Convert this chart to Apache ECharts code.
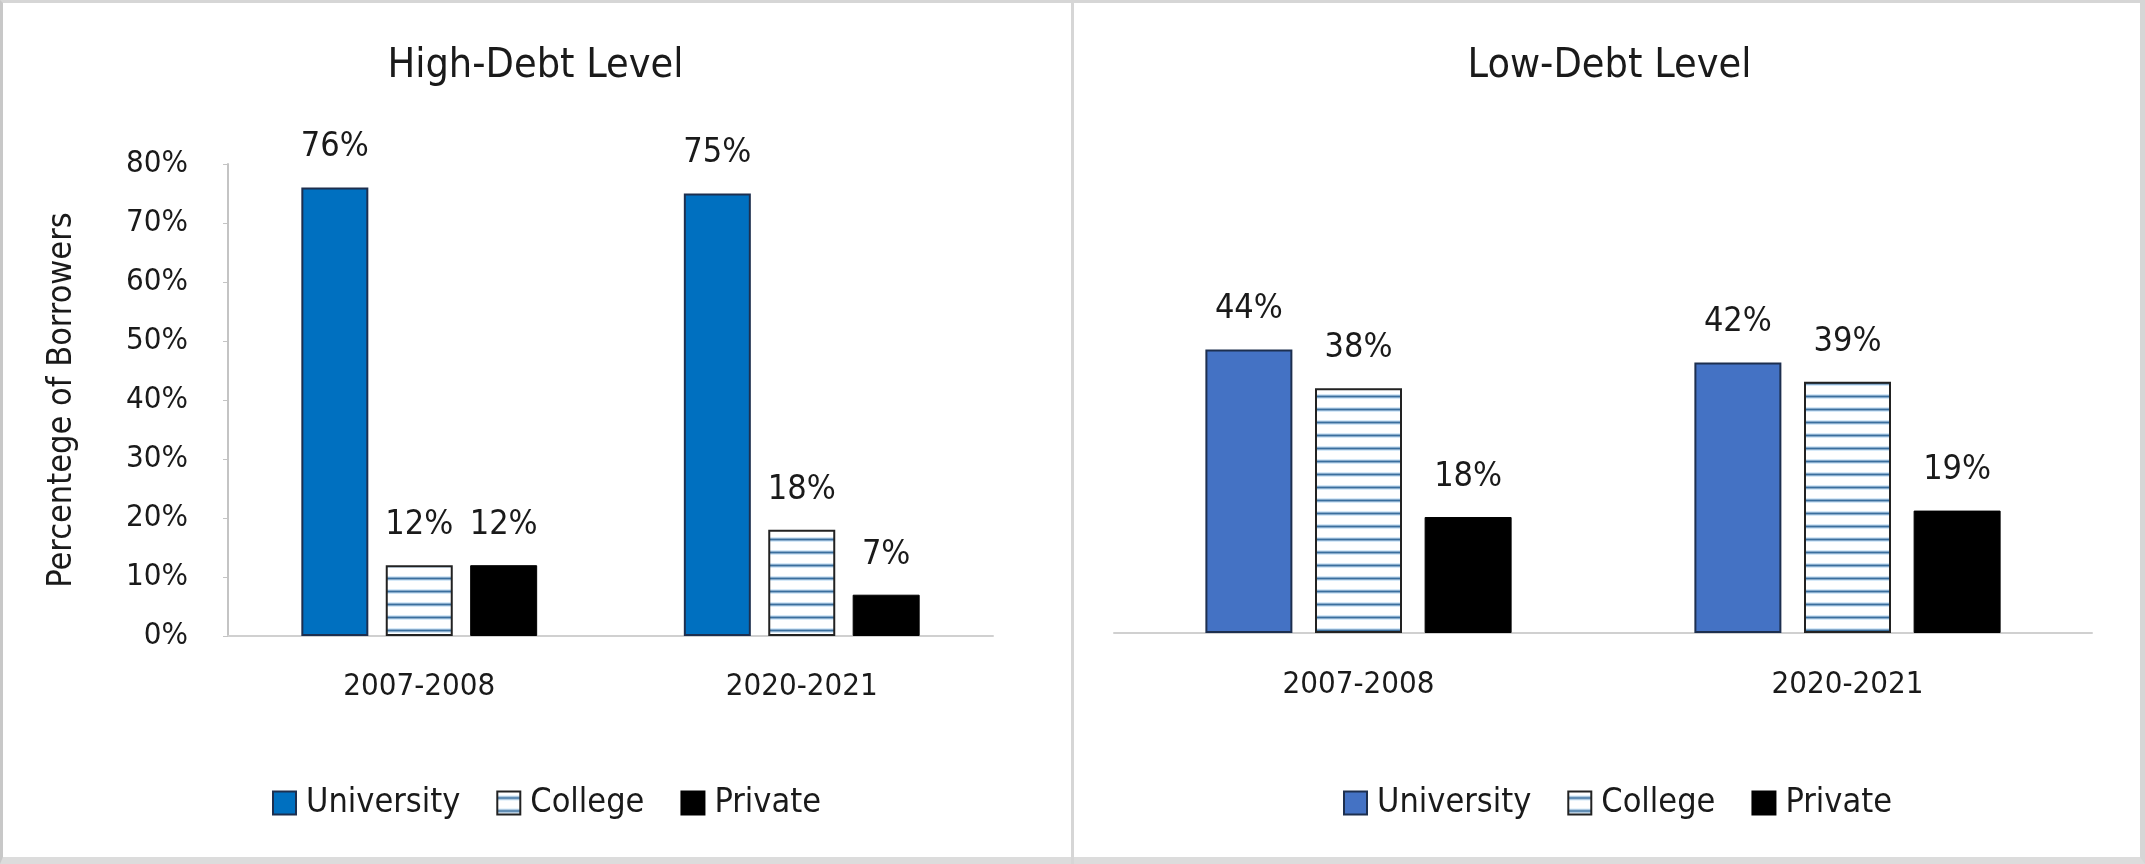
<!DOCTYPE html>
<html>
<head>
<meta charset="utf-8">
<script src="https://cdn.jsdelivr.net/npm/echarts@6/dist/echarts.min.js"></script>
<style>
  html, body { margin: 0; padding: 0; background: #ffffff; }
  #frame { position: absolute; left: 0; top: 0; width: 2145px; height: 864px; box-sizing: border-box;
           border-top: 3px solid #d6d6d6; border-left: 3px solid #c8c8c8; border-right: 5px solid #d6d6d6; border-bottom: 7px solid #dcdcdc; }
  #divider { position: absolute; left: 1071px; top: 0; width: 3px; height: 864px; background: #d6d6d6; }
  #left { position: absolute; left: 0; top: 0; width: 1071px; height: 864px; }
  #right { position: absolute; left: 1074px; top: 0; width: 1071px; height: 864px; }
</style>
</head>
<body>
<div id="frame"></div>
<div id="divider"></div>
<div id="left"></div>
<div id="right"></div>
<script>
// ---- data ----
const categories = ['2007-2008', '2020-2021'];
const seriesNames = ['University', 'College', 'Private'];
const highUniversity = [76, 75];
const highCollege = [12, 18];
const highPrivate = [12, 7];
const lowUniversity = [44, 42];
const lowCollege = [38, 39];
const lowPrivate = [18, 19];
const highTitle = 'High-Debt Level';
const lowTitle = 'Low-Debt Level';
const yAxisName = 'Percentege of Borrowers';
const highYMax = 80, highYInterval = 10;
const lowYMax = 70;

const FONT = '"Liberation Sans Narrow", "Arial Narrow", "DejaVu Sans Condensed", "Roboto Condensed", "Liberation Sans", sans-serif';
const TXT = '#1a1a1a';

function stripePattern() {
  const c = document.createElement('canvas');
  c.width = 8; c.height = 13;
  const g = c.getContext('2d');
  g.fillStyle = '#ffffff'; g.fillRect(0, 0, 8, 13);
  g.fillStyle = '#d6e9f8'; g.fillRect(0, 4, 8, 5);
  g.fillStyle = '#3a6f9e'; g.fillRect(0, 5.5, 8, 2);
  return { image: c, repeat: 'repeat' };
}

function labelOpt() {
  return { show: true, position: 'top', distance: 23, formatter: '{c}%', fontSize: 34, lineHeight: 34,
           color: TXT, fontFamily: FONT };
}

function makeSeries(uni, col, pri, uniColor, barW) {
  return [
    { name: seriesNames[0], type: 'bar', data: uni, barWidth: barW, barGap: '26%',
      itemStyle: { color: uniColor, borderColor: '#1d2f4f', borderWidth: 2 }, label: labelOpt() },
    { name: seriesNames[1], type: 'bar', data: col, barWidth: barW, barGap: '26%',
      itemStyle: { color: stripePattern(), borderColor: '#222222', borderWidth: 2 }, label: labelOpt() },
    { name: seriesNames[2], type: 'bar', data: pri, barWidth: barW, barGap: '26%',
      itemStyle: { color: '#000000', borderColor: '#000000', borderWidth: 1 }, label: labelOpt() }
  ];
}

function baseOption(title, legendLeft) {
  return {
    animation: false,
    backgroundColor: 'transparent',
    title: { text: title, left: 'center', top: 46, padding: 0,
             textStyle: { fontSize: 41, lineHeight: 41, fontWeight: 'normal', color: TXT, fontFamily: FONT } },
    legend: { data: seriesNames, left: legendLeft, top: 786, padding: 0, icon: 'rect',
              itemWidth: 23, itemHeight: 23, itemGap: 36,
              textStyle: { fontSize: 34, color: TXT, fontFamily: FONT, padding: [0, 0, 0, 5] } },
    tooltip: { show: false }
  };
}

// ---- left chart ----
const leftChart = echarts.init(document.getElementById('left'));
const leftOpt = baseOption(highTitle, 272);
leftOpt.grid = { left: 228, top: 164, width: 765, height: 472 };
leftOpt.xAxis = { type: 'category', data: categories,
  axisLine: { lineStyle: { color: '#d0d0d0', width: 2 } }, axisTick: { show: false },
  axisLabel: { fontSize: 31, lineHeight: 31, color: TXT, fontFamily: FONT, margin: 35 } };
leftOpt.yAxis = { type: 'value', min: 0, max: highYMax, interval: highYInterval,
  name: yAxisName, nameLocation: 'middle', nameGap: 149,
  nameTextStyle: { fontSize: 34, lineHeight: 34, color: TXT, fontFamily: FONT },
  axisLine: { show: true, lineStyle: { color: '#c4c4c4', width: 2 } },
  axisTick: { show: true, length: 5, lineStyle: { color: '#c4c4c4', width: 1 } },
  splitLine: { show: false },
  axisLabel: { formatter: '{value}%', fontSize: 31, color: TXT, fontFamily: FONT, margin: 40 } };
leftOpt.series = makeSeries(highUniversity, highCollege, highPrivate, '#0070C0', 67);
leftChart.setOption(leftOpt);

// ---- right chart ----
const rightChart = echarts.init(document.getElementById('right'));
const rightOpt = baseOption(lowTitle, 269);
rightOpt.grid = { left: 40, top: 182, width: 978, height: 451 };
rightOpt.xAxis = { type: 'category', data: categories,
  axisLine: { lineStyle: { color: '#d0d0d0', width: 2 } }, axisTick: { show: false },
  axisLabel: { fontSize: 31, lineHeight: 31, color: TXT, fontFamily: FONT, margin: 36 } };
rightOpt.yAxis = { type: 'value', min: 0, max: lowYMax, show: false, splitLine: { show: false } };
rightOpt.series = makeSeries(lowUniversity, lowCollege, lowPrivate, '#4472C4', 87);
rightChart.setOption(rightOpt);
</script>
</body>
</html>
